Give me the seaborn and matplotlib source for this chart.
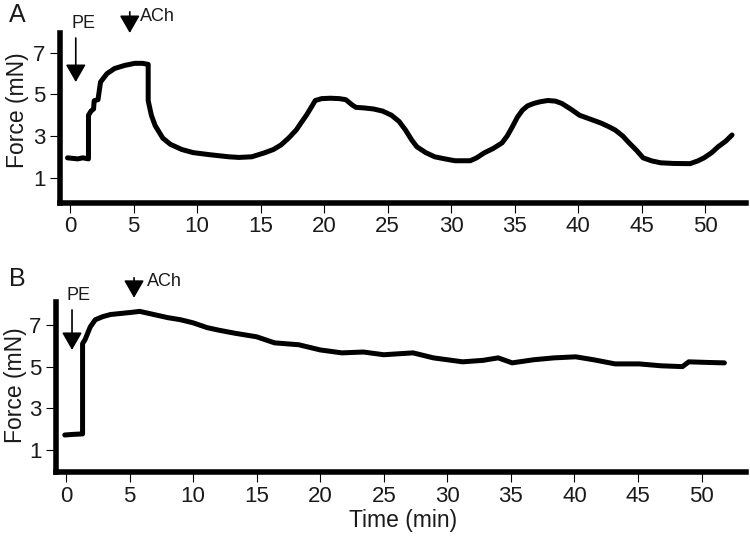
import numpy as np
import pandas as pd
import matplotlib
matplotlib.use('Agg')
import matplotlib.pyplot as plt
import seaborn as sns

sns.set_theme(style='ticks')
plt.rcParams['font.family'] = ['Liberation Sans', 'DejaVu Sans']

# 曲线A：PE后加ACh，出现振荡
time_a = [-0.2, 0.6, 1.0, 1.45, 1.45, 1.65, 1.85, 1.9, 2.2, 2.4, 2.9, 3.5, 4.3, 5.1, 5.7,
          6.15, 6.15, 6.4, 6.7, 7.3, 7.9, 8.8, 9.7, 11.0, 12.5, 13.3, 14.3, 15.3, 16.0,
          16.6, 17.2, 17.8, 18.2, 18.6, 19.0, 19.3, 19.8, 20.5, 21.2, 21.7, 22.2, 22.5,
          23.2, 23.9, 24.6, 25.3, 25.9, 26.4, 26.9, 27.3, 28.0, 28.7, 29.5, 30.3, 31.5,
          32.0, 32.6, 33.3, 34.0, 34.4, 34.8, 35.2, 35.6, 36.0, 36.5, 37.0, 37.6, 38.2,
          38.7, 39.4, 40.1, 41.0, 41.8, 42.4, 42.9, 43.5, 44.0, 44.6, 45.1, 45.8, 46.5,
          47.5, 48.8, 49.4, 49.9, 50.5, 51.0, 51.6, 52.1]
force_a = [1.95, 1.9, 1.95, 1.9, 4.0, 4.2, 4.3, 4.7, 4.75, 5.6, 6.0, 6.25, 6.4, 6.5, 6.5,
           6.45, 4.7, 4.0, 3.5, 2.9, 2.6, 2.35, 2.2, 2.1, 2.0, 1.97, 2.0, 2.19, 2.35,
           2.57, 2.9, 3.29, 3.65, 4.0, 4.4, 4.71, 4.8, 4.82, 4.8, 4.75, 4.5, 4.38,
           4.35, 4.3, 4.2, 4.0, 3.7, 3.29, 2.8, 2.48, 2.2, 2.0, 1.9, 1.81, 1.81,
           1.95, 2.19, 2.4, 2.67, 3.0, 3.43, 3.9, 4.24, 4.45, 4.57, 4.65, 4.71, 4.68,
           4.57, 4.3, 4.0, 3.8, 3.62, 3.45, 3.29, 3.0, 2.67, 2.3, 1.95, 1.8, 1.71,
           1.68, 1.67, 1.8, 1.95, 2.2, 2.48, 2.75, 3.05]

# 曲线B：PE后加ACh，缓慢下降
time_b = [-0.1, 0.6, 1.25, 1.3, 1.3, 1.5, 1.9, 2.3, 2.9, 3.5, 4.3, 5.1, 5.8, 6.9, 8.0,
          9.0, 10.0, 11.1, 12.0, 13.3, 15.0, 16.4, 18.3, 20.0, 21.7, 23.4, 25.0, 27.3,
          28.9, 31.2, 32.8, 34.0, 35.1, 36.8, 38.4, 40.1, 41.5, 43.2, 45.1, 46.8, 48.5,
          49.0, 50.5, 51.8]
force_b = [1.72, 1.75, 1.77, 1.77, 6.1, 6.3, 6.9, 7.25, 7.4, 7.5, 7.55, 7.6, 7.65, 7.5, 7.35,
           7.25, 7.1, 6.87, 6.75, 6.6, 6.43, 6.14, 6.05, 5.8, 5.66, 5.7, 5.57, 5.66,
           5.42, 5.23, 5.3, 5.42, 5.18, 5.33, 5.42, 5.47, 5.33, 5.13, 5.13, 5.04, 5.0,
           5.23, 5.2, 5.18]

x_ticks = [0, 5, 10, 15, 20, 25, 30, 35, 40, 45, 50]
y_ticks = [1, 3, 5, 7]

# 给药时间点（min）
pe_a, ach_a = 0.45, 4.7
pe_b, ach_b = 0.47, 5.35

df_a = pd.DataFrame({'time': time_a, 'force': force_a})
df_b = pd.DataFrame({'time': time_b, 'force': force_b})

fig = plt.figure(figsize=(7.5, 5.42), dpi=100)
ax_a = fig.add_axes([59.5 / 750, 1 - 202.5 / 542, 686.5 / 750, 169.5 / 542])
ax_b = fig.add_axes([55.5 / 750, 1 - 472 / 542, 690.5 / 750, 170 / 542])

for ax, df in ((ax_a, df_a), (ax_b, df_b)):
    sns.lineplot(data=df, x='time', y='force', ax=ax, color='black', lw=3.6,
                 estimator=None, sort=False)
    sns.despine(ax=ax)
    for s in ('left', 'bottom'):
        ax.spines[s].set_linewidth(4)
        ax.spines[s].set_color('black')
    ax.set_xticks(x_ticks)
    ax.set_yticks(y_ticks)
    ax.tick_params(axis='both', direction='out', length=7, width=0.8,
                   color='black', labelsize=16, pad=3, labelcolor='#1a1a1a')
    ax.set_ylabel('Force (mN)', fontsize=16.5, color='#1a1a1a')
    ax.set_xlabel('')
    ax.set_facecolor('white')

ax_a.set_xlim(-0.83, 53.2)
ax_a.set_ylim(-0.2, 7.96)
ax_b.set_xlim(-0.83, 53.5)
ax_b.set_ylim(-0.056, 8.1)

ax_a.yaxis.set_label_coords(-0.045, 0.546)
ax_b.yaxis.set_label_coords(-0.041, 0.51)
ax_b.set_xlabel('Time (min)', fontsize=16.5, color='#1a1a1a')
ax_b.xaxis.set_label_coords(0.503, -0.22)

arrow_kw = dict(arrowstyle='-|>,head_length=0.54,head_width=0.31', color='black',
                lw=1.2, mutation_scale=20, shrinkA=0, shrinkB=0)


def mark(ax, t_pe, pe_tail, pe_tip, pe_txt, t_ach, ach_top, ach_tip, ach_txt, t_pe_txt, t_ach_txt):
    ax.annotate('', xy=(t_pe, pe_tip), xytext=(t_pe, pe_tail), arrowprops=arrow_kw,
                annotation_clip=False)
    ax.text(t_pe_txt, pe_txt, 'PE', fontsize=13, ha='center', va='center', clip_on=False,
            color='#1a1a1a')
    ax.annotate('', xy=(t_ach, ach_tip), xytext=(t_ach, ach_top), arrowprops=arrow_kw,
                annotation_clip=False)
    ax.text(t_ach_txt, ach_txt, 'ACh', fontsize=13, ha='left', va='center', clip_on=False,
            color='#1a1a1a')


mark(ax_a, pe_a, 7.72, 5.6, 8.42, ach_a, 8.98, 7.96, 8.76, 1.06, 5.5)
mark(ax_b, pe_b, 7.72, 5.8, 8.4, ach_b, 9.26, 8.3, 9.07, 0.95, 6.4)

fig.text(17 / 750, 1 - 15 / 542, 'A', fontsize=18, ha='center', va='center', color='#1a1a1a')
fig.text(17 / 750, 1 - 279 / 542, 'B', fontsize=18, ha='center', va='center', color='#1a1a1a')

plt.savefig('out.png', dpi=100, facecolor='white')
